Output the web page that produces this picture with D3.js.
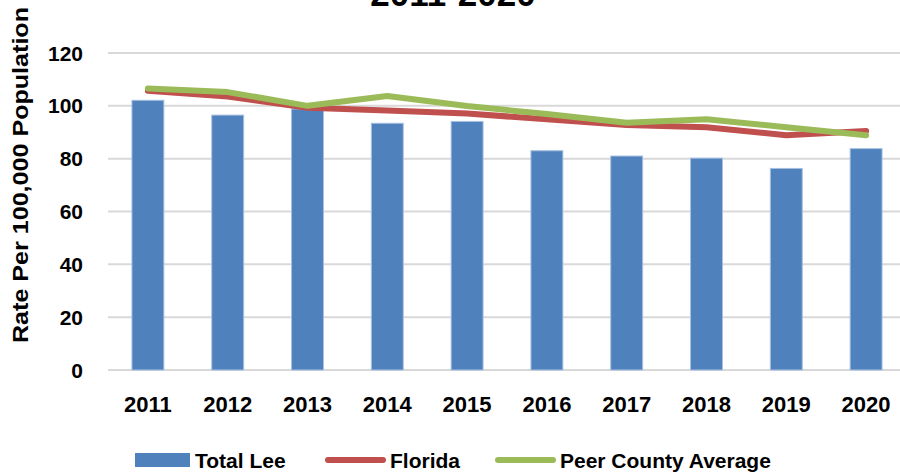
<!DOCTYPE html>
<html>
<head>
<meta charset="utf-8">
<script src="https://cdn.jsdelivr.net/npm/d3@7"></script>
<style>
  body { margin: 0; background: #fff; }
  text { font-family: "Liberation Sans", Arial, sans-serif; font-weight: bold; fill: #000; }
</style>
</head>
<body>
<script>
// chart data
const years = ["2011", "2012", "2013", "2014", "2015", "2016", "2017", "2018", "2019", "2020"];
const totalLee = [102.1, 96.5, 98.8, 93.4, 94.1, 83.0, 81.0, 80.2, 76.3, 83.8];
const florida = [105.7, 103.5, 99.3, 98.2, 97.1, 94.9, 92.7, 91.9, 88.9, 90.5];
const peerAvg = [106.6, 105.2, 100.0, 103.7, 99.9, 96.9, 93.6, 94.9, 91.9, 88.9];
const yTicks = [0, 20, 40, 60, 80, 100, 120];

const width = 900, height = 475;
const plotLeft = 108, plotRight = 906, plotTop = 53, plotBottom = 370;

const svg = d3.select("body").append("svg")
    .attr("width", width)
    .attr("height", height);

const x = d3.scaleBand()
    .domain(years)
    .range([plotLeft, plotRight])
    .paddingInner(0.6)
    .paddingOuter(0.3);

const y = d3.scaleLinear()
    .domain([0, 120])
    .range([plotBottom, plotTop]);

const cx = (d) => x(d) + x.bandwidth() / 2;

// gridlines
svg.append("g")
    .selectAll("line")
    .data(yTicks)
    .enter().append("line")
    .attr("x1", plotLeft)
    .attr("x2", plotRight)
    .attr("y1", (d) => y(d))
    .attr("y2", (d) => y(d))
    .attr("stroke", "#d9d9d9")
    .attr("stroke-width", 2);

// y tick labels
svg.append("g")
    .selectAll("text")
    .data(yTicks)
    .enter().append("text")
    .attr("x", 83)
    .attr("y", (d) => y(d))
    .attr("dy", "0.36em")
    .attr("text-anchor", "end")
    .style("font-size", "21px")
    .text((d) => d);

// x tick labels
svg.append("g")
    .selectAll("text")
    .data(years)
    .enter().append("text")
    .attr("x", (d) => cx(d))
    .attr("y", 412)
    .attr("text-anchor", "middle")
    .style("font-size", "22px")
    .text((d) => d);

// bars
svg.append("g")
    .selectAll("rect")
    .data(years)
    .enter().append("rect")
    .attr("x", (d) => x(d))
    .attr("y", (d, i) => y(totalLee[i]))
    .attr("width", x.bandwidth())
    .attr("height", (d, i) => y(0) - y(totalLee[i]))
    .attr("fill", "#4f81bd")
    .attr("stroke", "#a7c0e0")
    .attr("stroke-width", 1);

const line = d3.line()
    .x((d, i) => cx(years[i]))
    .y((d) => y(d));

svg.append("path")
    .datum(florida)
    .attr("d", line)
    .attr("fill", "none")
    .attr("stroke", "#c0504d")
    .attr("stroke-width", 6)
    .attr("stroke-linecap", "round")
    .attr("stroke-linejoin", "round");

svg.append("path")
    .datum(peerAvg)
    .attr("d", line)
    .attr("fill", "none")
    .attr("stroke", "#9bbb59")
    .attr("stroke-width", 6)
    .attr("stroke-linecap", "round")
    .attr("stroke-linejoin", "round");

// title (top line is cut off in the original)
svg.append("text")
    .attr("x", 453)
    .attr("y", 6)
    .attr("text-anchor", "middle")
    .style("font-size", "35px")
    .text("2011-2020");

// y axis title
svg.append("text")
    .attr("transform", "translate(28,175) rotate(-90)")
    .attr("text-anchor", "middle")
    .attr("textLength", 336)
    .attr("lengthAdjust", "spacingAndGlyphs")
    .style("font-size", "22px")
    .text("Rate Per 100,000 Population");

// legend
const legend = svg.append("g");
legend.append("rect")
    .attr("x", 135).attr("y", 453)
    .attr("width", 55).attr("height", 14)
    .attr("fill", "#4f81bd");
legend.append("text")
    .attr("x", 195).attr("y", 460).attr("dy", "0.36em")
    .style("font-size", "21px")
    .text("Total Lee");

legend.append("line")
    .attr("x1", 328).attr("x2", 383)
    .attr("y1", 460).attr("y2", 460)
    .attr("stroke", "#c0504d").attr("stroke-width", 6)
    .attr("stroke-linecap", "round");
legend.append("text")
    .attr("x", 390).attr("y", 460).attr("dy", "0.36em")
    .style("font-size", "21px")
    .text("Florida");

legend.append("line")
    .attr("x1", 498).attr("x2", 553)
    .attr("y1", 460).attr("y2", 460)
    .attr("stroke", "#9bbb59").attr("stroke-width", 6)
    .attr("stroke-linecap", "round");
legend.append("text")
    .attr("x", 560).attr("y", 460).attr("dy", "0.36em")
    .style("font-size", "21px")
    .text("Peer County Average");
</script>
</body>
</html>
